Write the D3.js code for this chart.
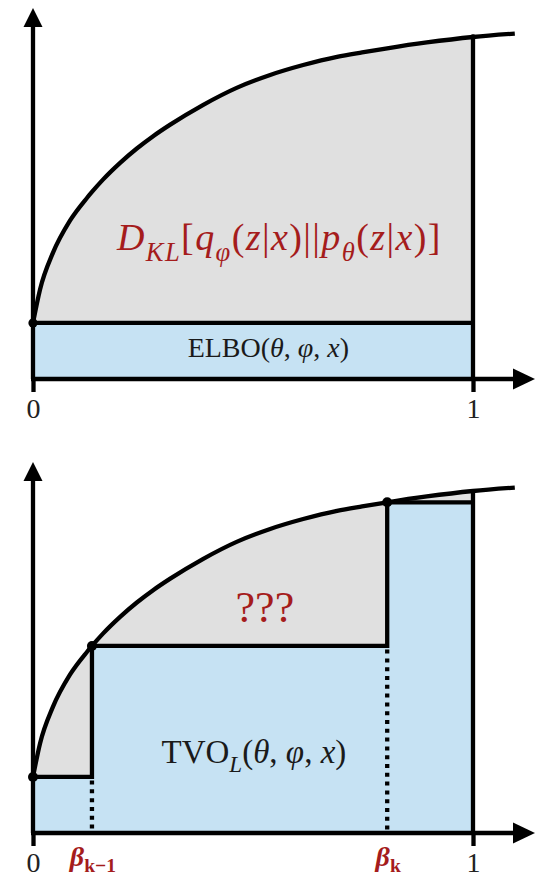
<!DOCTYPE html>
<html>
<head>
<meta charset="utf-8">
<script src="https://cdn.jsdelivr.net/npm/d3@7"></script>
<style>
  html, body { margin: 0; padding: 0; background: #fff; }
  svg { display: block; }
</style>
</head>
<body>
<svg id="chart" width="543" height="877"></svg>
<script>
// Sampled curve (beta on x, integrand on y)
const curveX = [0, 0.016, 0.045, 0.084, 0.123, 0.134, 0.159, 0.198, 0.236, 0.273, 0.311,
                0.386, 0.464, 0.539, 0.614, 0.691, 0.748, 0.805, 0.895, 1.0, 1.095];
const curveY = [0.164, 0.262, 0.368, 0.463, 0.530, 0.547, 0.583, 0.632, 0.674, 0.710, 0.743,
                0.801, 0.852, 0.889, 0.918, 0.942, 0.955, 0.967, 0.984, 1.0, 1.010];
// Partition points used for the left Riemann sum in the lower panel
const betas = [0, 0.134, 0.805];
const xTicks = [0, 1];
const betaLabels = [["β", "k−1"], ["β", "k"]];

const RED = "#a51c1c";
const GRAY = "#e0e0e0";
const BLUE = "#c6e2f3";
const LW = 4.3;
const FONT = "'Liberation Serif', 'Times New Roman', serif";

const svg = d3.select("#chart");
const x = d3.scaleLinear().domain([0, 1]).range([33, 473]);

const pts = curveX.map((d, i) => [d, curveY[i]]);
const f = b => curveY[curveX.indexOf(b)];

// Append a math-like label built from segments
function mathText(g, px, py, size, color, segs, opts = {}) {
  const subShift = opts.subShift ?? 0.28;
  const t = g.append("text")
    .attr("x", px).attr("y", py)
    .attr("text-anchor", "middle")
    .attr("font-family", FONT)
    .attr("font-size", size)
    .attr("letter-spacing", opts.spacing ?? 0)
    .attr("fill", color);
  let shift = 0;
  segs.forEach(s => {
    const target = s.sub ? size * subShift : 0;
    t.append("tspan")
      .attr("dy", target - shift)
      .attr("font-size", s.sub ? size * 0.7 : size)
      .attr("font-style", s.it ? "italic" : "normal")
      .attr("font-weight", s.b ? "bold" : "normal")
      .text(s.t);
    shift = target;
  });
  return t;
}

function drawPanel(base, kind) {
  const g = svg.append("g");
  const y = d3.scaleLinear().domain([0, 1]).range([base, base - 342]);

  const inside = pts.filter(p => p[0] <= 1);
  const area = d3.area().x(p => x(p[0])).y0(y(0)).y1(p => y(p[1])).curve(d3.curveMonotoneX);
  const line = d3.line().x(p => x(p[0])).y(p => y(p[1])).curve(d3.curveMonotoneX);

  // region under the curve
  g.append("path").attr("d", area(inside)).attr("fill", GRAY);

  if (kind === "elbo") {
    const e = f(0);
    g.append("rect")
      .attr("x", x(0)).attr("y", y(e))
      .attr("width", x(1) - x(0)).attr("height", y(0) - y(e))
      .attr("fill", BLUE);
    g.append("line")
      .attr("x1", x(0)).attr("x2", x(1)).attr("y1", y(e)).attr("y2", y(e))
      .attr("stroke", "#000").attr("stroke-width", LW);
  } else {
    const edges = betas.concat([1]);
    const steps = [];
    betas.forEach((b, i) => {
      steps.push([b, f(b)], [edges[i + 1], f(b)]);
    });
    const stepArea = d3.area().x(p => x(p[0])).y0(y(0)).y1(p => y(p[1]));
    g.append("path").attr("d", stepArea(steps)).attr("fill", BLUE);
    g.append("path")
      .attr("d", d3.line().x(p => x(p[0])).y(p => y(p[1]))(steps))
      .attr("fill", "none").attr("stroke", "#000").attr("stroke-width", LW)
      .attr("stroke-linejoin", "miter");
    // dotted drops from each interior partition point
    betas.slice(1).forEach((b, i) => {
      g.append("line")
        .attr("x1", x(b)).attr("x2", x(b))
        .attr("y1", y(f(betas[i])) + LW / 2 + 1.5).attr("y2", y(0))
        .attr("stroke", "#000").attr("stroke-width", LW)
        .attr("stroke-dasharray", "4,4.8");
    });
  }

  // right edge at beta = 1
  g.append("line")
    .attr("x1", x(1)).attr("x2", x(1)).attr("y1", y(f(1))).attr("y2", y(0))
    .attr("stroke", "#000").attr("stroke-width", LW);

  // the curve itself
  g.append("path").attr("d", line(pts))
    .attr("fill", "none").attr("stroke", "#000").attr("stroke-width", LW);

  // axes with arrow heads
  const xEnd = 1.1;
  g.append("line")
    .attr("x1", x(0) - 2).attr("x2", x(xEnd) - 2).attr("y1", y(0)).attr("y2", y(0))
    .attr("stroke", "#000").attr("stroke-width", LW);
  g.append("path")
    .attr("d", `M${x(xEnd) - 4},${y(0) - 10.5}L${x(xEnd) + 18},${y(0)}L${x(xEnd) - 4},${y(0) + 10.5}Z`)
    .attr("fill", "#000");
  const yEnd = 1.035;
  g.append("line")
    .attr("x1", x(0)).attr("x2", x(0)).attr("y1", y(0)).attr("y2", y(yEnd))
    .attr("stroke", "#000").attr("stroke-width", LW);
  g.append("path")
    .attr("d", `M${x(0) - 9.5},${y(yEnd) + 2}L${x(0)},${y(yEnd) - 17}L${x(0) + 9.5},${y(yEnd) + 2}Z`)
    .attr("fill", "#000");

  const ax = g.append("g").attr("transform", `translate(0,${y(0)})`)
    .call(d3.axisBottom(x).tickValues(xTicks).tickFormat(d3.format("d")).tickSize(13).tickPadding(6));
  ax.select(".domain").remove();
  ax.selectAll(".tick line").attr("stroke", "#000").attr("stroke-width", LW);
  ax.selectAll(".tick text").attr("font-family", FONT).attr("font-size", 28).attr("fill", "#222");

  // points on the curve
  if (kind === "elbo") {
    g.append("circle").attr("cx", x(0)).attr("cy", y(f(0))).attr("r", 4.6);
    g.append("circle").attr("cx", x(1)).attr("cy", y(f(1))).attr("r", 2.8);
  } else {
    betas.forEach(b => {
      g.append("circle").attr("cx", x(b)).attr("cy", y(f(b))).attr("r", 5);
    });
  }
  return { g, y };
}

const upper = drawPanel(379, "elbo");
const lower = drawPanel(833, "tvo");

// labels, upper panel
mathText(upper.g, x(0.56), upper.y(0.377), 38, RED, [
  { t: "D", it: true }, { t: "KL", it: true, sub: true },
  { t: "[" }, { t: "q", it: true }, { t: "φ", it: true, sub: true },
  { t: "(" }, { t: "z", it: true }, { t: "|" }, { t: "x", it: true }, { t: ")||" },
  { t: "p", it: true }, { t: "θ", it: true, sub: true },
  { t: "(" }, { t: "z", it: true }, { t: "|" }, { t: "x", it: true }, { t: ")]" }
], { spacing: 1.4 });
mathText(upper.g, x(0.535), upper.y(0.064), 28, "#1a1a1a", [
  { t: "ELBO(" }, { t: "θ", it: true }, { t: ", " }, { t: "φ", it: true },
  { t: ", " }, { t: "x", it: true }, { t: ")" }
]);

// labels, lower panel
mathText(lower.g, x(0.527), lower.y(0.617), 44, RED, [{ t: "???" }]);
mathText(lower.g, x(0.502), lower.y(0.205), 33, "#1a1a1a", [
  { t: "TVO" }, { t: "L", it: true, sub: true }, { t: "(" }, { t: "θ", it: true },
  { t: ", " }, { t: "φ", it: true }, { t: ", " }, { t: "x", it: true }, { t: ")" }
]);
betas.slice(1).forEach((b, i) => {
  mathText(lower.g, x(b) + 1, 866, 28, RED, [
    { t: betaLabels[i][0], it: true, b: true },
    { t: betaLabels[i][1], b: true, sub: true }
  ], { subShift: 0.2 });
});
</script>
</body>
</html>
